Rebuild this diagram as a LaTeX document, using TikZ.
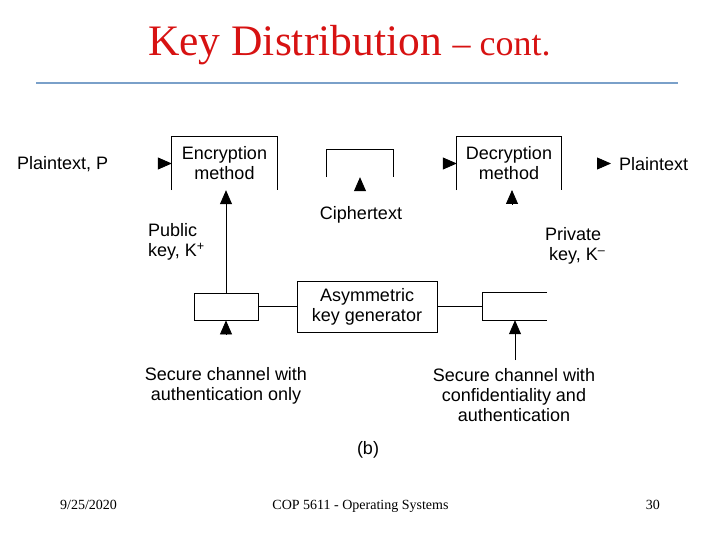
\documentclass[tikz,border=0pt]{standalone}
\usepackage{fontspec}
\setmainfont{Liberation Serif}
\setsansfont{Liberation Sans}
\usetikzlibrary{arrows.meta}
\definecolor{titlered}{RGB}{215,18,18}
\definecolor{rulebl}{RGB}{122,160,201}
\begin{document}
\begin{tikzpicture}[x=1pt,y=-1pt]
    \tikzset{
    lbl/.style={font=\sffamily\fontsize{18}{20}\selectfont,inner sep=0pt,align=center},
    blk/.style={lbl,minimum width=#1,minimum height=27},
    c1/.style={line width=0.8pt},
    c2/.style={line width=0.8pt,-{Triangle[length=14pt,width=12pt]}},
    }
    \useasboundingbox (0,0) rectangle (720,540);
    % title and rule
    \node[anchor=base west,inner sep=0pt,text=titlered] (title) at (148,56)
      {\fontsize{43.5}{47}\selectfont Key Distribution \fontsize{36}{39}\selectfont -- cont.};
    \draw[rulebl,line width=1.6pt] (36,83) -- (678,83);

    % boxes
    \node[blk=105,minimum height=53] (enc) at (224.5,163.5) {Encryption\\method};
    \node[blk=66] (cbox) at (360,163.5) {};
    \node[blk=104,minimum height=53] (dec) at (509,163.5) {Decryption\\method};
    \node[blk=140,minimum height=51,draw,line width=0.8pt] (akg) at (367,306.5) {Asymmetric\\key generator};
    \node[blk=64,draw,line width=0.8pt] (lbox) at (226,306.5) {};
    \node[blk=64] (rbox) at (515,306.5) {};
    \draw[c1] (enc.south west) -- (enc.north west) -- (enc.north east) -- (enc.south east);
    \draw[c1] (cbox.south west) -- (cbox.north west) -- (cbox.north east) -- (cbox.south east);
    \draw[c1] (dec.south west) -- (dec.north west) -- (dec.north east) -- (dec.south east);
    \draw[c1] (rbox.north east) -- (rbox.north west) -- (rbox.south west) -- (rbox.south east);

    % texts
    \node[lbl,anchor=west] (pin) at (17,164) {Plaintext, P};
    \node[lbl,anchor=west] (pout) at (619,164) {Plaintext};
    \node[lbl] (ctext) at (361,215) {Ciphertext};
    \node[lbl,align=left,anchor=west] (pub) at (148,242) {Public\\key, K\textsuperscript{+}};
    \node[lbl,align=left,anchor=west] (priv) at (545,246) {Private\\\hspace{4pt}key, K\textsuperscript{--}};
    \node[lbl] (sec1) at (226,386) {Secure channel with\\authentication only};
    \node[lbl] (sec2) at (514,395) {Secure channel with\\confidentiality and\\authentication};
    \node[lbl] (fig) at (368,450) {(b)};

    % arrow ends
    \coordinate (a1) at (158,163.5);
    \coordinate (a2) at (360,191);
    \coordinate (a3) at (443,163.5);
    \coordinate (a4) at (512,204);
    \coordinate (a4t) at (512,190);
    \coordinate (a5) at (597,163.5);
    \coordinate (a5t) at (611,163.5);
    \coordinate (a6) at (226,334);
    \coordinate (a7) at (515,360);

    % connectors
    \draw[c2] (a1) -- (enc.west);
    \draw[c2] (lbox.north) -- (lbox.north |- enc.south);
    \draw[c2] (a2) -- (cbox.south);
    \draw[c2] (a3) -- (dec.west);
    \draw[c2] (a4) -- (a4t);
    \draw[c2] (a5) -- (a5t);
    \draw[c1] (lbox.east) -- (akg.west);
    \draw[c1] (akg.east) -- (rbox.west);
    \draw[c2] (a6) -- (lbox.south);
    \draw[c2] (a7) -- (rbox.south);

    % footer
    \node[font=\fontsize{14}{16}\selectfont,inner sep=0pt,anchor=base west] (date) at (60,509) {9/25/2020};
    \node[font=\fontsize{14}{16}\selectfont,inner sep=0pt,anchor=base] (course) at (360.5,509) {COP 5611 - Operating Systems};
    \node[font=\fontsize{14}{16}\selectfont,inner sep=0pt,anchor=base east] (page) at (660,509) {30};
\end{tikzpicture}
\end{document}
